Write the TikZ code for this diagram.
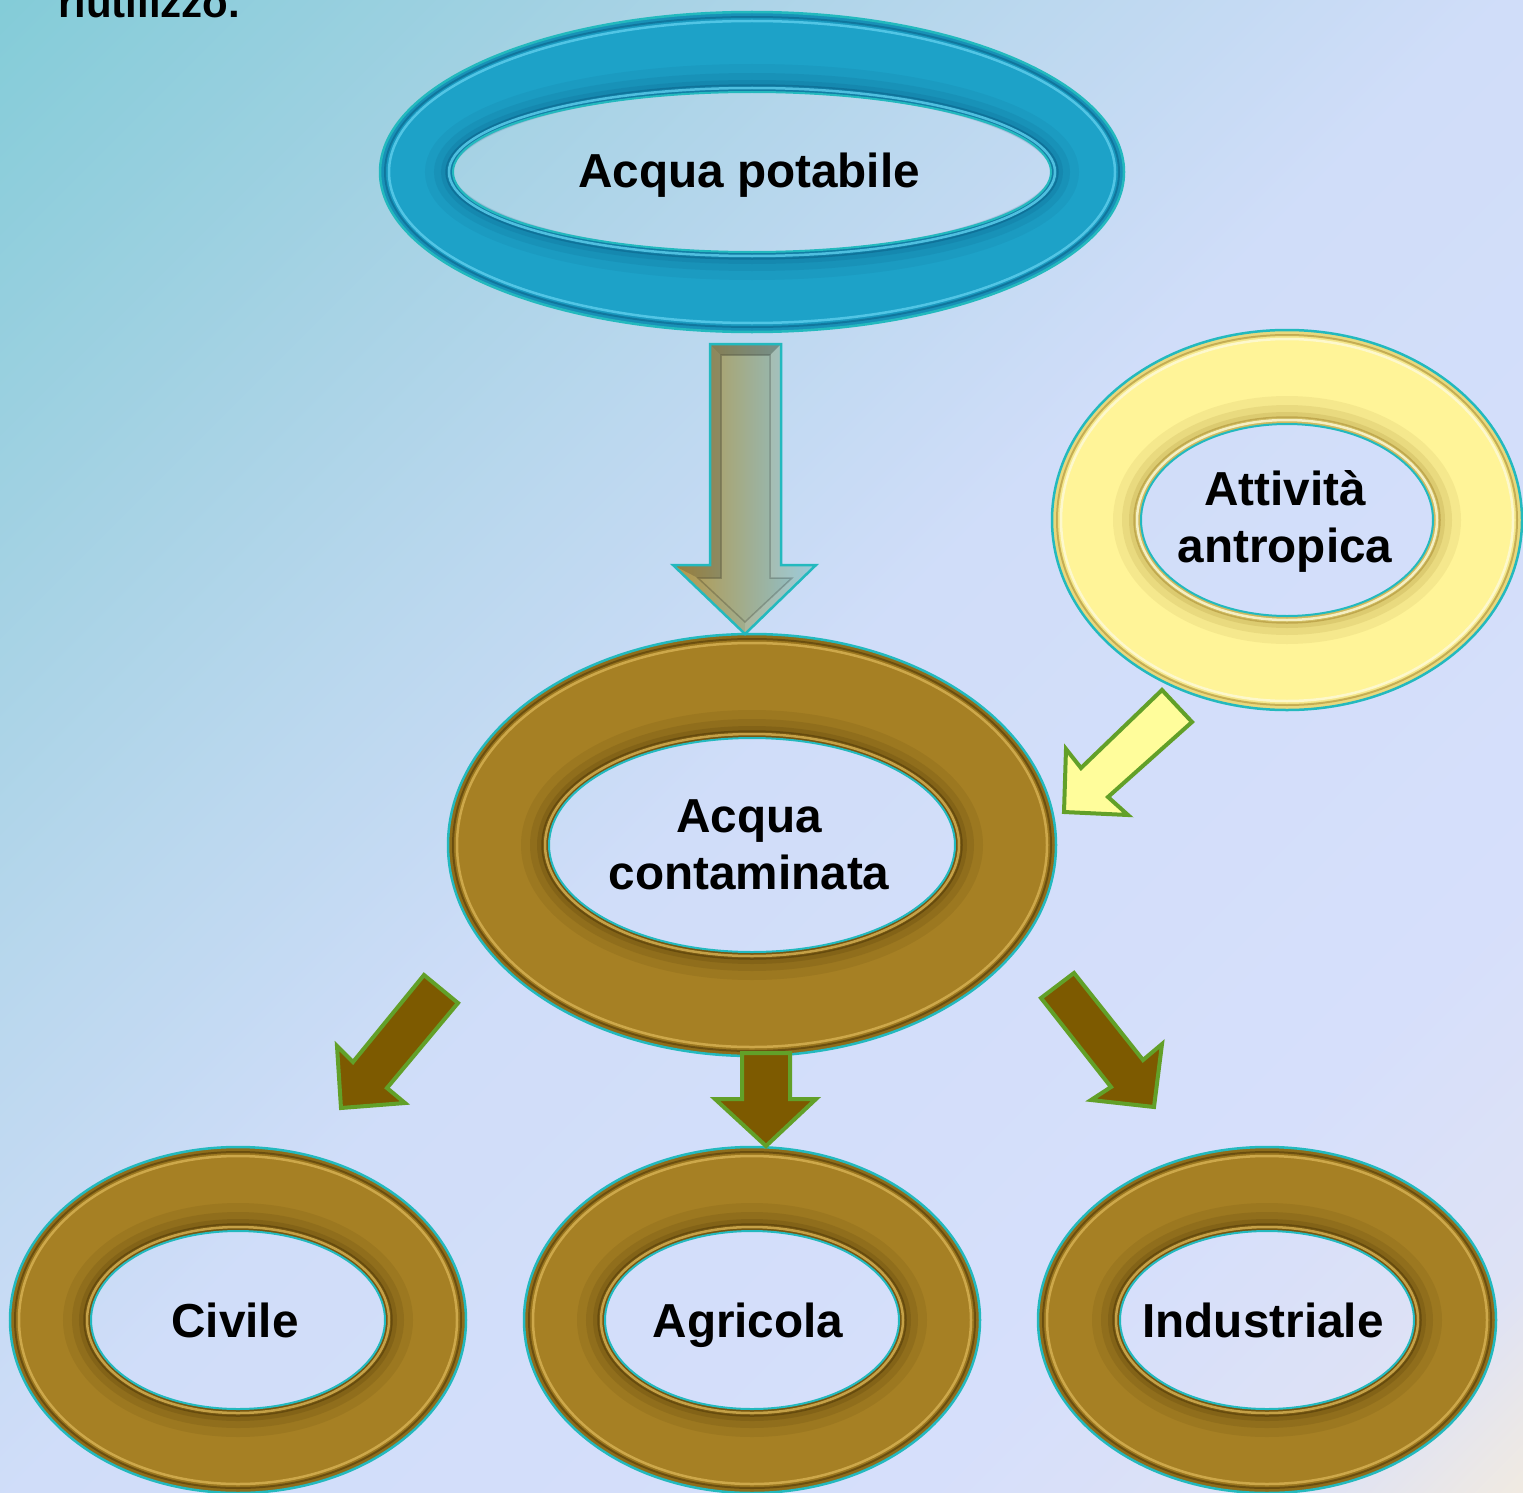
\documentclass[tikz,border=0pt]{standalone}
\usepackage{fontspec}
\setmainfont{Liberation Sans}
\definecolor{blueB}{RGB}{29,162,200}
\definecolor{blueD}{RGB}{10,95,135}
\definecolor{blueL}{RGB}{95,208,238}
\definecolor{brownB}{RGB}{166,128,36}
\definecolor{brownD}{RGB}{75,52,5}
\definecolor{brownL}{RGB}{218,180,85}
\definecolor{yelB}{RGB}{255,244,152}
\definecolor{yelD}{RGB}{165,135,45}
\definecolor{yelL}{RGB}{255,253,220}
\definecolor{rim}{RGB}{35,185,190}
\definecolor{arrowBrown}{RGB}{125,90,0}
\definecolor{arrowGreen}{RGB}{98,160,40}
\definecolor{arrowYel}{RGB}{255,253,155}
\definecolor{bigL}{RGB}{182,150,68}
\definecolor{bigM}{RGB}{158,165,128}
\definecolor{bigR}{RGB}{140,196,216}
\pgfdeclarehorizontalshading{bgshade}{100bp}{%
rgb(0bp)=(0.518,0.8,0.847);
rgb(14.64bp)=(0.518,0.8,0.847);
rgb(28.8bp)=(0.647,0.824,0.894);
rgb(39.4bp)=(0.737,0.847,0.937);
rgb(50bp)=(0.816,0.867,0.976);
rgb(71.2bp)=(0.839,0.875,0.984);
rgb(80.4bp)=(0.871,0.886,0.961);
rgb(85.36bp)=(0.941,0.918,0.886);
rgb(100bp)=(0.941,0.918,0.886)}
\tikzset{
  lbl/.style={font=\fontsize{47.7}{57}\selectfont\bfseries, align=center, inner sep=0pt, text=black},
  barrow/.style={fill=arrowBrown, draw=arrowGreen, line width=4, line join=miter},
  yarrow/.style={fill=arrowYel, draw=arrowGreen, line width=4, line join=miter}
}
\newcommand\ringdraw[7]{%
  \fill[#7B, even odd rule] (#1,#2) ellipse [x radius=#3, y radius=#4] (#1,#2) ellipse [x radius=#5, y radius=#6];
  \foreach \w/\o in {28/0.10, 19/0.14, 12/0.18, 6/0.24}{%
    \pgfmathsetmacro\rxa{#5+\w/2}\pgfmathsetmacro\rya{#6+\w/2}%
    \draw[#7D, line width=\w, opacity=\o] (#1,#2) ellipse [x radius=\rxa, y radius=\rya];}
  \foreach \w/\o in {10/0.10, 5/0.16}{%
    \pgfmathsetmacro\rxa{#3-\w/2}\pgfmathsetmacro\rya{#4-\w/2}%
    \draw[#7D, line width=\w, opacity=\o] (#1,#2) ellipse [x radius=\rxa, y radius=\rya];}
  \pgfmathsetmacro\rxa{#3-5}\pgfmathsetmacro\rya{#4-5}%
  \draw[#7D, line width=2, opacity=0.55] (#1,#2) ellipse [x radius=\rxa, y radius=\rya];
  \pgfmathsetmacro\rxa{#3-9}\pgfmathsetmacro\rya{#4-9}%
  \draw[#7L, line width=2.5, opacity=0.8] (#1,#2) ellipse [x radius=\rxa, y radius=\rya];
  \pgfmathsetmacro\rxa{#5+4}\pgfmathsetmacro\rya{#6+4}%
  \draw[#7L, line width=2.5, opacity=0.8] (#1,#2) ellipse [x radius=\rxa, y radius=\rya];
  \pgfmathsetmacro\rxa{#5+7}\pgfmathsetmacro\rya{#6+7}%
  \draw[#7D, line width=1.5, opacity=0.5] (#1,#2) ellipse [x radius=\rxa, y radius=\rya];
  \draw[rim, line width=2.5] (#1,#2) ellipse [x radius=#3, y radius=#4];
  \draw[rim, line width=2] (#1,#2) ellipse [x radius=#5, y radius=#6];
}
\begin{document}
\begin{tikzpicture}[x=1pt, y=-1pt]
\useasboundingbox (0,0) rectangle (1523,1493);
\clip (0,0) rectangle (1523,1493);
\shade[shading=bgshade, shading angle=-45] (0,0) rectangle (1523,1493);

\node[lbl, font=\fontsize{42}{50}\selectfont\bfseries, anchor=base west] (riut) at (58,18) {riutilizzo.};

% rings
\ringdraw{752}{172}{372}{160}{299}{80}{blue}
\ringdraw{752}{845}{304}{211}{203}{107}{brown}
\ringdraw{1287}{520}{235}{190}{146}{96}{yel}
\ringdraw{238}{1320}{228}{173}{147}{89}{brown}
\ringdraw{752}{1320}{228}{173}{147}{89}{brown}
\ringdraw{1267}{1320}{229}{173}{147}{89}{brown}

% big gradient arrow
\shade[left color=bigL, middle color=bigM, right color=bigR]
  (710,344) -- (781,344) -- (781,565) -- (816,565) -- (745,634) -- (673,565) -- (710,565) -- cycle;
\fill[black, opacity=0.16] (710,344) -- (721,355) -- (721,578) -- (698,578) -- (673,565) -- (710,565) -- cycle;
\fill[black, opacity=0.22] (710,344) -- (781,344) -- (770,355) -- (721,355) -- cycle;
\fill[white, opacity=0.12] (781,344) -- (770,355) -- (770,578) -- (792,578) -- (745,622) -- (745,634) -- (816,565) -- (781,565) -- cycle;
\draw[black, opacity=0.2, line width=1.5, line join=miter]
  (721,355) -- (770,355) -- (770,578) -- (792,578) -- (745,622) -- (698,578) -- (721,578) -- cycle;
\draw[rim, line width=2.5, line join=miter]
  (710,344) -- (781,344) -- (781,565) -- (816,565) -- (745,634) -- (673,565) -- (710,565) -- cycle;

% yellow arrow
\draw[yarrow] (1162,690) -- (1192,722) -- (1108,797) -- (1128,815) -- (1064,812) -- (1066,749) -- (1081,768) -- cycle;

% brown arrows
\draw[barrow] (424,975) -- (458,1003) -- (387,1088) -- (405,1103) -- (341,1108) -- (337,1046) -- (353,1062) -- cycle;
\draw[barrow] (742,1053) -- (790,1053) -- (790,1099) -- (816,1099) -- (766,1146) -- (715,1099) -- (742,1099) -- cycle;
\draw[barrow] (1041,998) -- (1074,973) -- (1143,1060) -- (1162,1044) -- (1154,1107) -- (1091,1100) -- (1111,1087) -- cycle;

% labels
\node[lbl, anchor=base] (potabile) at (749,187) {Acqua potabile};
\node[lbl] (contam) at (749,845) {Acqua\\contaminata};
\node[lbl] (antrop) at (1285,521) {Attività\\antropica};
\node[lbl, anchor=base] (civile) at (235,1337) {Civile};
\node[lbl, anchor=base] (agricola) at (748,1337) {Agricola};
\node[lbl, anchor=base] (industr) at (1263,1337) {Industriale};
\end{tikzpicture}
\end{document}
